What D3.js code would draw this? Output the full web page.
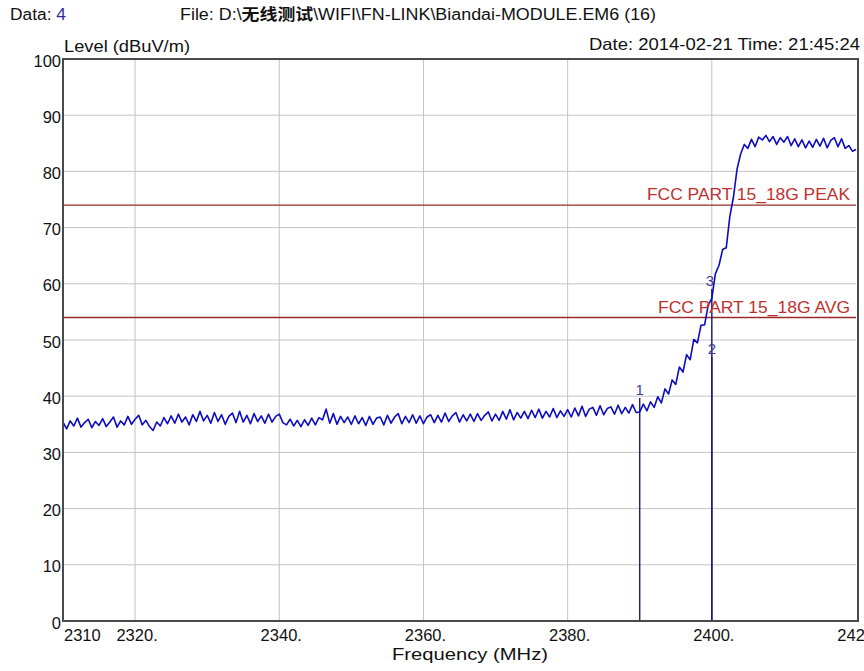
<!DOCTYPE html>
<html><head><meta charset="utf-8">
<script src="https://cdn.jsdelivr.net/npm/d3@7"></script>
<style>html,body{margin:0;padding:0;background:#fff;overflow:hidden}</style>
</head><body><svg id="c" width="864" height="671"></svg>
<script>
// ---- data ----
const freqStart = 2310, freqStep = 0.5;   // MHz, trace sampling
const levels = [
 35.4,34.2,35.6,34.7,36.1,34.5,35.3,35.9,34.4,35.5,34.8,36.0,34.6,35.4,36.3,34.5,35.6,34.9,36.4,35.0,
 35.9,36.6,34.9,35.7,34.6,33.9,35.4,34.7,36.2,35.1,36.5,35.2,36.8,35.4,36.3,34.9,36.7,35.5,37.3,35.6,
 36.6,35.2,37.1,35.5,36.7,35.0,36.4,37.0,35.3,37.3,35.4,36.6,35.1,36.9,35.5,36.5,35.2,36.8,35.4,36.4,
 36.8,35.3,34.9,35.9,34.7,35.7,34.6,35.8,34.8,36.1,34.9,36.2,35.8,37.7,35.2,36.9,35.0,36.4,35.3,36.3,
 35.0,36.5,35.1,36.2,34.8,36.4,35.0,36.1,36.3,34.9,36.6,35.2,36.3,36.9,35.1,36.4,35.3,36.7,35.2,36.5,
 35.1,36.3,36.7,35.3,36.6,35.4,37.0,35.5,36.5,37.1,35.4,36.7,35.6,36.8,35.5,36.9,35.7,36.6,37.2,35.6,
 36.8,35.7,37.3,35.9,37.6,35.8,37.1,36.1,37.3,36.0,37.5,36.2,37.7,36.1,37.3,36.3,37.8,36.2,37.4,36.4,
 37.6,36.3,37.9,36.5,38.2,36.4,37.7,38.0,36.6,38.3,36.7,37.8,38.1,36.8,38.4,36.9,38.0,37.0,38.5,37.1,
 37.2,38.6,37.4,39.0,38.0,39.9,38.8,41.3,40.4,42.9,42.1,45.2,44.3,47.4,46.5,50.1,49.5,52.6,52.7,56.2,
 57.4,61.8,63.3,66.1,66.4,72.0,75.4,80.4,83.1,84.8,84.1,85.7,84.4,86.1,85.6,86.4,85.3,86.2,84.8,86.0,
 85.2,86.2,84.6,85.8,84.4,85.6,84.2,85.4,84.3,85.7,84.5,85.9,84.2,85.5,86.0,84.4,85.8,84.1,84.6,83.6,83.9
];
const xTickValues = [2310,2320,2340,2360,2380,2400,2420];
const xTickLabels = ["2310","2320.","2340.","2360.","2380.","2400.","2420."];
const xGridValues = [2320,2340,2360,2380,2400];
const yTickValues = [0,10,20,30,40,50,60,70,80,90,100];
const limitNames = ["FCC PART 15_18G PEAK","FCC PART 15_18G AVG"];
const limitLevels = [74,54];
const markerNames = ["1","2","3"];
const markerFreqs = [2390,2400,2400];
const markerLevels = [40.2,47.5,59.6];

// ---- drawing ----
const svg = d3.select("#c");
const FONT = "'Liberation Sans', Arial, sans-serif";
const L = 63, R = 856, T = 59, B = 621;
const x = d3.scaleLinear().domain([2310,2420]).range([L,R]);
const y = d3.scaleLinear().domain([0,100]).range([B,T]);

// gridlines
svg.append("g").selectAll("line").data(yTickValues.filter(v=>v>0&&v<100)).join("line")
  .attr("x1",L).attr("x2",R).attr("y1",d=>y(d)).attr("y2",d=>y(d))
  .attr("stroke","#c4c4c4").attr("stroke-width",1);
svg.append("g").selectAll("line").data(xGridValues).join("line")
  .attr("x1",d=>x(d)).attr("x2",d=>x(d)).attr("y1",T).attr("y2",B)
  .attr("stroke","#c4c4c4").attr("stroke-width",1);

// limit lines
svg.append("g").selectAll("line").data(limitLevels).join("line")
  .attr("x1",L).attr("x2",R).attr("y1",d=>y(d)).attr("y2",d=>y(d))
  .attr("stroke","#9a2a2a").attr("stroke-width",1.4);

// marker lines
svg.append("g").selectAll("line").data(markerFreqs).join("line")
  .attr("x1",d=>x(d)).attr("x2",d=>x(d)).attr("y1",B)
  .attr("y2",(d,i)=>y(markerLevels[i])+3)
  .attr("stroke","#1c1c7a").attr("stroke-width",1.4);

// trace
const pts = levels.map((v,i)=>[freqStart+i*freqStep, v]);
svg.append("path").datum(pts)
  .attr("fill","none").attr("stroke","#0c0cc0").attr("stroke-width",1.6)
  .attr("stroke-linejoin","round")
  .attr("d", d3.line().x(d=>x(d[0])).y(d=>y(d[1])));

// limit labels
const limitWidths = [203,192];
svg.append("g").selectAll("text").data(limitNames).join("text")
  .attr("x",850).attr("y",(d,i)=>y(limitLevels[i])-5)
  .attr("text-anchor","end").attr("font-family",FONT).attr("font-size",16.5)
  .attr("textLength",(d,i)=>limitWidths[i]).attr("lengthAdjust","spacingAndGlyphs")
  .attr("fill","#c0302c").text(d=>d);

// marker labels
svg.append("g").selectAll("text").data(markerNames).join("text")
  .attr("x",(d,i)=>x(markerFreqs[i])-(i===2?2:0)).attr("y",(d,i)=>y(markerLevels[i]))
  .attr("text-anchor","middle").attr("font-family",FONT).attr("font-size",15)
  .attr("fill","#3c3c96").text(d=>d);

// frame
svg.append("rect").attr("x",L).attr("y",T).attr("width",R-L+2).attr("height",B-T)
  .attr("fill","none").attr("stroke","#4a4a4a").attr("stroke-width",2);

// y tick labels
svg.append("g").selectAll("text").data(yTickValues).join("text")
  .attr("x",61).attr("y",d=>y(d)+7.5)
  .attr("text-anchor","end").attr("font-family",FONT).attr("font-size",16.5)
  .attr("fill","#111").text(d=>d);

// x tick labels
svg.append("g").selectAll("text").data(xTickValues).join("text")
  .attr("x",(d,i)=>i===0?x(d)+1:x(d)+2).attr("y",641)
  .attr("text-anchor",(d,i)=>i===0?"start":"middle").attr("font-family",FONT).attr("font-size",16.5)
  .attr("fill","#111").text((d,i)=>xTickLabels[i]);

// axis titles
svg.append("text").attr("x",470).attr("y",660).attr("text-anchor","middle")
  .attr("font-family",FONT).attr("font-size",17).attr("fill","#111")
  .attr("textLength",156).attr("lengthAdjust","spacingAndGlyphs").text("Frequency (MHz)");
svg.append("text").attr("x",64).attr("y",52)
  .attr("font-family",FONT).attr("font-size",16.5).attr("fill","#111")
  .attr("textLength",126).attr("lengthAdjust","spacingAndGlyphs").text("Level (dBuV/m)");

// header
const h1 = svg.append("text").attr("x",10).attr("y",20).attr("font-family",FONT).attr("font-size",16).attr("fill","#111")
  .attr("textLength",56).attr("lengthAdjust","spacingAndGlyphs");
h1.append("tspan").text("Data: ");
h1.append("tspan").attr("fill","#2e2ea0").text("4");

const h2 = svg.append("text").attr("x",180).attr("y",20).attr("font-family",FONT).attr("font-size",16).attr("fill","#111")
  .attr("textLength",476).attr("lengthAdjust","spacingAndGlyphs");
h2.append("tspan").text("File: D:\\");
h2.append("tspan").attr("font-family","'Noto Sans CJK SC', sans-serif").attr("font-weight","bold").text("无线测试");
h2.append("tspan").text("\\WIFI\\FN-LINK\\Biandai-MODULE.EM6  (16)");

svg.append("text").attr("x",860).attr("y",50).attr("text-anchor","end")
  .attr("font-family",FONT).attr("font-size",16.5).attr("fill","#111")
  .attr("textLength",271).attr("lengthAdjust","spacingAndGlyphs")
  .text("Date: 2014-02-21  Time: 21:45:24");
</script>
</body></html>
